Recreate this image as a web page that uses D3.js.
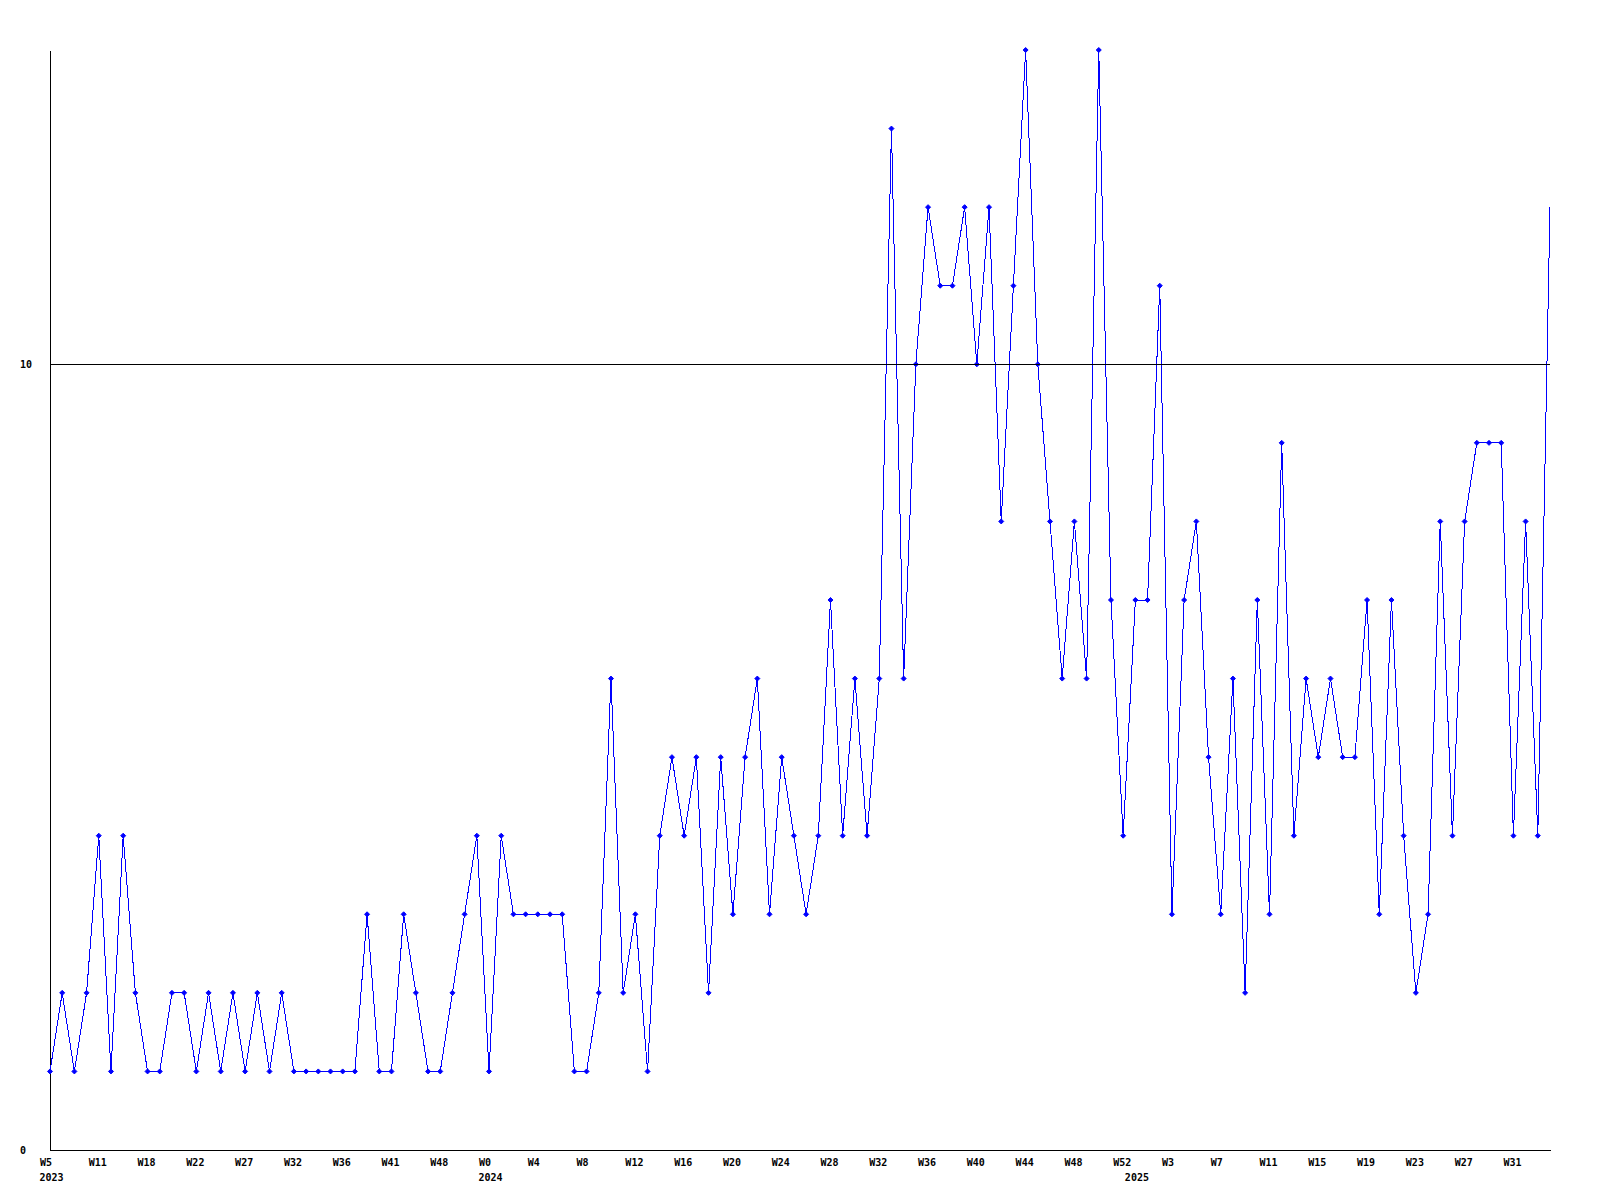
<!DOCTYPE html>
<html>
<head>
<meta charset="utf-8">
<script src="https://cdn.jsdelivr.net/npm/d3@7"></script>
<style>
  html, body { margin: 0; padding: 0; background: #fff; }
  svg { display: block; }
  text { font-family: "DejaVu Sans Mono", "Liberation Mono", monospace; font-weight: bold; font-size: 10px; fill: #000; }
</style>
</head>
<body>
<svg id="chart" width="1600" height="1200"></svg>
<script>
// ---- data ----
const values = [
  1, 2, 1, 2, 4, 1, 4, 2, 1, 1,
  2, 2, 1, 2, 1, 2, 1, 2, 1, 2,
  1, 1, 1, 1, 1, 1, 3, 1, 1, 3,
  2, 1, 1, 2, 3, 4, 1, 4, 3, 3,
  3, 3, 3, 1, 1, 2, 6, 2, 3, 1,
  4, 5, 4, 5, 2, 5, 3, 5, 6, 3,
  5, 4, 3, 4, 7, 4, 6, 4, 6, 13,
  6, 10, 12, 11, 11, 12, 10, 12, 8, 11,
  14, 10, 8, 6, 8, 6, 14, 7, 4, 7,
  7, 11, 3, 7, 8, 5, 3, 6, 2, 7,
  3, 9, 4, 6, 5, 6, 5, 5, 7, 3,
  7, 4, 2, 3, 8, 4, 8, 9, 9, 9,
  4, 8, 4, 12
];
const weekLabels = [
  "W5", "W11", "W18", "W22", "W27", "W32", "W36", "W41", "W48", "W0",
  "W4", "W8", "W12", "W16", "W20", "W24", "W28", "W32", "W36", "W40",
  "W44", "W48", "W52", "W3", "W7", "W11", "W15", "W19", "W23", "W27", "W31"
];
const labelEvery = 4;
const yearLabels = ["2023", "2024", "2025"];
const yearAt = [0, 36, 89];
const yTicks = [0, 10];
const refLine = 10;
const yMax = 14;

// ---- layout ----
const svg = d3.select("#chart");
const plotLeft = 50, plotRight = 1550, plotTop = 50, plotBottom = 1150;

const x = d3.scaleLinear().domain([0, values.length - 1]).range([plotLeft, plotRight]);
const y = d3.scaleLinear().domain([0, yMax]).range([plotBottom, plotTop]);

svg.append("rect").attr("width", 1600).attr("height", 1200).attr("fill", "#fff");

function styleText(sel) {
  sel.attr("fill", "#000")
    .style("font-family", "'DejaVu Sans Mono', monospace")
    .style("font-weight", "bold")
    .style("font-size", "10px");
}

// x axis
const xAxis = d3.axisBottom(x)
  .tickValues(d3.range(0, values.length, labelEvery).slice(0, weekLabels.length))
  .tickFormat((d, i) => weekLabels[i])
  .tickSize(0)
  .tickSizeOuter(0);
const gx = svg.append("g").attr("transform", `translate(0,${plotBottom})`).call(xAxis);
gx.select(".domain").attr("stroke", "#000").attr("stroke-width", 1).attr("shape-rendering", "crispEdges");
gx.selectAll(".tick text")
  .attr("text-anchor", "start")
  .attr("x", -10.5)
  .attr("y", 16)
  .attr("dy", null)
  .call(styleText);

// year labels
svg.append("g").selectAll("text")
  .data(yearLabels)
  .join("text")
  .attr("x", (d, i) => x(yearAt[i]) - 10.5)
  .attr("y", plotBottom + 31)
  .text(d => d)
  .call(styleText);

// y axis
const yAxis = d3.axisLeft(y).tickValues(yTicks).tickFormat(d3.format("d")).tickSize(0).tickSizeOuter(0);
const gy = svg.append("g").attr("transform", `translate(${plotLeft},0)`).call(yAxis);
gy.select(".domain").attr("stroke", "#000").attr("stroke-width", 1).attr("shape-rendering", "crispEdges");
gy.selectAll(".tick text")
  .attr("text-anchor", "start")
  .attr("x", -30)
  .attr("dy", "0.35em")
  .call(styleText);

// data line
const line = d3.line().x((d, i) => x(i)).y(d => y(d));
svg.append("path")
  .datum(values)
  .attr("fill", "none")
  .attr("stroke", "#0000ff")
  .attr("stroke-width", 1)
  .attr("shape-rendering", "crispEdges")
  .attr("d", line);

// markers (last point has none in the reference)
const diamond = "M0,-2.5L2.5,0L0,2.5L-2.5,0Z";
svg.append("g").selectAll("path")
  .data(values.slice(0, -1))
  .join("path")
  .attr("transform", (d, i) => `translate(${x(i)},${y(d)})`)
  .attr("d", diamond)
  .attr("fill", "#0000ff")
  .attr("stroke", "#0000ff")
  .attr("stroke-width", 1);

// reference line at 10 drawn over the data
svg.append("line")
  .attr("x1", x(0)).attr("x2", x(values.length - 1))
  .attr("y1", y(refLine)).attr("y2", y(refLine))
  .attr("stroke", "#000")
  .attr("stroke-width", 1)
  .attr("shape-rendering", "crispEdges");
</script>
</body>
</html>
